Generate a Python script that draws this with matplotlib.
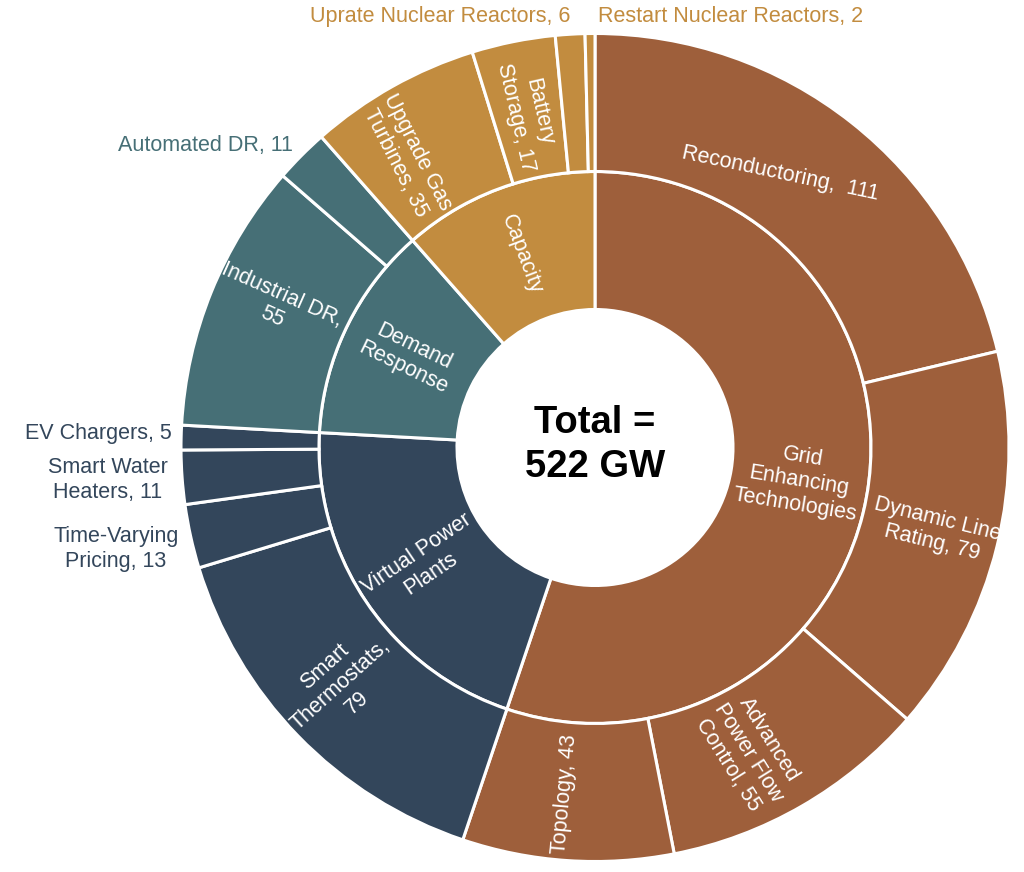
import matplotlib
matplotlib.use("Agg")
import matplotlib.pyplot as plt
import numpy as np

plt.rcParams["font.family"] = ["Liberation Sans", "DejaVu Sans"]

# inner ring: categories, outer ring: the measures under each one
categories = ["Grid\nEnhancing\nTechnologies", "Virtual Power\nPlants", "Demand\nResponse", "Capacity"]
cat_colors = ["#9E5F3B", "#33465B", "#466F76", "#C28C3F"]

sub_names = [
    "Reconductoring", "Dynamic Line Rating", "Advanced Power Flow Control", "Topology",
    "Smart Thermostats", "Time-Varying Pricing", "Smart Water Heaters", "EV Chargers",
    "Industrial DR", "Automated DR",
    "Upgrade Gas Turbines", "Battery Storage", "Uprate Nuclear Reactors", "Restart Nuclear Reactors",
]
sub_values = [111, 79, 55, 43, 79, 13, 11, 5, 55, 11, 35, 17, 6, 2]
sub_parent = [0, 0, 0, 0, 1, 1, 1, 1, 2, 2, 3, 3, 3, 3]
sub_text = [
    "Reconductoring,  111", "Dynamic Line\nRating, 79", "Advanced\nPower Flow\nControl, 55", "Topology, 43",
    "Smart\nThermostats,\n79", "Time-Varying\nPricing, 13", "Smart Water\nHeaters, 11", "EV Chargers, 5",
    "Industrial DR,\n55", "Automated DR, 11",
    "Upgrade Gas\nTurbines, 35", "Battery\nStorage, 17", "Uprate Nuclear Reactors, 6", "Restart Nuclear Reactors, 2",
]

cat_values = [sum(v for v, p in zip(sub_values, sub_parent) if p == i) for i in range(len(categories))]
total = sum(sub_values)

# figure geometry in pixels (1024x872), pie centre and outer radius
W, H = 1024, 872
CX, CY, R = 595, 447.5, 414


def px(x, y):
    return (x - CX) / R, (CY - y) / R


# labels put outside the ring: pixel anchor and alignment
outside = {
    "Uprate Nuclear Reactors": (570, 17, "right"),
    "Restart Nuclear Reactors": (598, 17, "left"),
    "Automated DR": (293, 146, "right"),
    "EV Chargers": (172, 433, "right"),
    "Smart Water Heaters": (108, 480, "center"),
    "Time-Varying Pricing": (116, 549, "center"),
}
# labels placed off the plain radial layout: (rotation, radius, angle)
label_override = {
    "Reconductoring": (-12, 0.80, 55.9),
    "Advanced Power Flow Control": (-58, 0.825, -63.3),
    "Topology": (85, 0.84, -95),
    "Smart Thermostats": (42, 0.84, -137),
    "Industrial DR": (-24, 0.84, 156),
    "Upgrade Gas Turbines": (-63, 0.835, 123),
    "Battery Storage": (-77, 0.82, 101.5),
}

fig = plt.figure(figsize=(W / 100, H / 100), dpi=100)
ax = fig.add_axes([0, 0, 1, 1])

wp = dict(width=1 / 3, edgecolor="white", linewidth=2.2)
inner, _ = ax.pie(cat_values, radius=2 / 3, colors=cat_colors, startangle=90,
                  counterclock=False, wedgeprops=wp)
outer, _ = ax.pie(sub_values, radius=1.0, colors=[cat_colors[p] for p in sub_parent],
                  startangle=90, counterclock=False, wedgeprops=wp)


def radial(theta):
    a = (theta + 180) % 360 - 180
    if a > 90:
        a -= 180
    elif a < -90:
        a += 180
    return a


fs = 15.5
for w, txt in zip(inner, categories):
    mid = (w.theta1 + w.theta2) / 2
    x, y = 0.5 * np.cos(np.radians(mid)), 0.5 * np.sin(np.radians(mid))
    ax.text(x, y, txt, ha="center", va="center", rotation=radial(mid),
            rotation_mode="anchor", color="white", fontsize=fs)

for w, name, txt, p in zip(outer, sub_names, sub_text, sub_parent):
    mid = (w.theta1 + w.theta2) / 2
    if name in outside:
        x0, y0, ha = outside[name]
        x, y = px(x0, y0)
        ax.text(x, y, txt, ha=ha, va="center", color=cat_colors[p], fontsize=fs,
                multialignment="center")
        continue
    rot, r = radial(mid), 0.845
    if name in label_override:
        rot, r, mid = label_override[name]
    x, y = r * np.cos(np.radians(mid)), r * np.sin(np.radians(mid))
    ax.text(x, y, txt, ha="center", va="center", rotation=rot,
            rotation_mode="anchor", color="white", fontsize=fs)

ax.text(0, px(0, 445)[1], f"Total =\n{total} GW", ha="center", va="center",
        fontsize=27.5, fontweight="bold", color="black", linespacing=1.3)

ax.set_aspect("equal")
ax.set_xlim(-CX / R, (W - CX) / R)
ax.set_ylim(-(H - CY) / R, CY / R)
ax.axis("off")

fig.savefig("out.png", dpi=100)
